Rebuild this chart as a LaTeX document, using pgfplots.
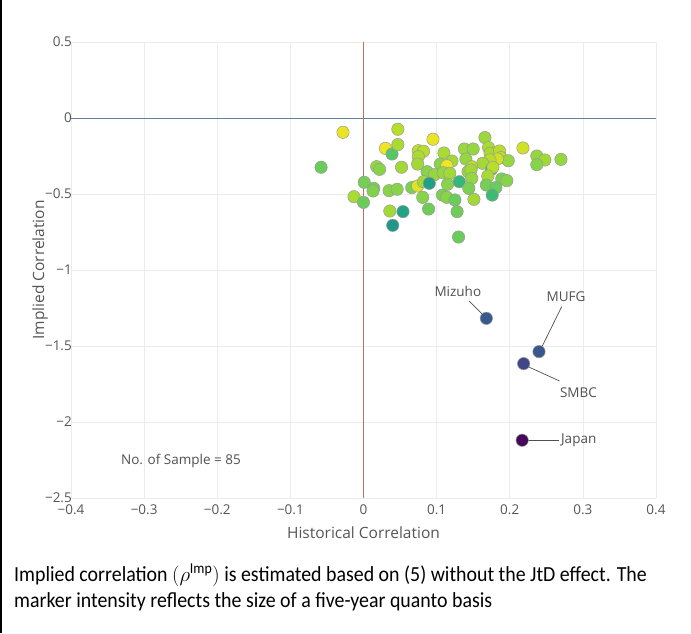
\documentclass[border=0pt]{standalone}
\usepackage{pgfplots}
\pgfplotsset{compat=1.18}
\usepackage{amsmath}
\usepackage{fontspec}
\newfontfamily\plotfont{Open Sans}
\newfontfamily\capfont{Carlito}[FakeStretch=0.925]

\definecolor{tickgray}{RGB}{85,85,85}
\definecolor{gridgray}{RGB}{236,236,236}
\definecolor{vzero}{RGB}{196,112,92}
\definecolor{hzero}{RGB}{96,128,160}
\definecolor{annot}{RGB}{80,80,80}

% x = historical, y = implied, c = quanto basis intensity (0..1)
\pgfplotstableread{
x y c
-0.028 -0.094 0.97
0.047 -0.074 0.89
-0.058 -0.324 0.77
0.030 -0.200 0.98
0.039 -0.237 0.74
0.047 -0.175 0.87
0.095 -0.140 0.97
0.075 -0.215 0.90
0.082 -0.219 0.89
0.075 -0.254 0.87
0.074 -0.303 0.86
0.110 -0.230 0.87
0.121 -0.283 0.86
0.105 -0.303 0.82
0.114 -0.314 0.98
0.018 -0.320 0.84
0.022 -0.338 0.82
0.052 -0.324 0.86
0.087 -0.353 0.82
0.097 -0.373 0.84
0.109 -0.360 0.84
0.118 -0.364 0.86
0.138 -0.204 0.85
0.150 -0.204 0.84
0.166 -0.129 0.85
0.171 -0.195 0.87
0.173 -0.232 0.87
0.186 -0.217 0.89
0.188 -0.261 0.89
0.198 -0.281 0.84
0.183 -0.270 0.93
0.173 -0.276 0.89
0.163 -0.298 0.86
0.140 -0.270 0.84
0.148 -0.320 0.89
0.143 -0.353 0.84
0.147 -0.342 0.86
0.148 -0.397 0.84
0.175 -0.338 0.64
0.177 -0.324 0.89
0.170 -0.382 0.87
0.189 -0.401 0.80
0.196 -0.412 0.82
0.168 -0.441 0.79
0.181 -0.458 0.77
0.176 -0.507 0.68
0.218 -0.197 0.93
0.237 -0.250 0.84
0.248 -0.276 0.86
0.237 -0.307 0.82
0.270 -0.272 0.84
0.001 -0.423 0.79
0.014 -0.463 0.79
0.013 -0.480 0.81
-0.013 -0.518 0.87
0.000 -0.555 0.77
0.035 -0.478 0.82
0.046 -0.469 0.82
0.066 -0.458 0.80
0.074 -0.447 0.95
0.082 -0.419 0.86
0.090 -0.430 0.56
0.081 -0.522 0.82
0.108 -0.507 0.80
0.114 -0.522 0.82
0.125 -0.539 0.77
0.115 -0.436 0.82
0.131 -0.419 0.66
0.144 -0.463 0.80
0.151 -0.535 0.86
0.036 -0.612 0.86
0.054 -0.616 0.58
0.040 -0.706 0.52
0.089 -0.599 0.78
0.128 -0.616 0.78
0.130 -0.783 0.77
0.168 -1.318 0.28
0.240 -1.537 0.27
0.219 -1.616 0.21
0.217 -2.120 0.02
}\corr

\begin{document}
\begin{tikzpicture}[x=1pt,y=1pt]
\useasboundingbox (0,0) rectangle (691,633);
\draw[line width=1.3pt] (1,0) -- (1,633);
\begin{axis}[
  at={(71pt,135pt)}, anchor=south west,
  scale only axis, width=585pt, height=456pt,
  xmin=-0.4, xmax=0.4, ymin=-2.5, ymax=0.5,
  xtick={-0.4,-0.3,-0.2,-0.1,0.1,0.2,0.3,0.4},
  xticklabels={−0.4,−0.3,−0.2,−0.1,0.1,0.2,0.3,0.4},
  extra x ticks={0}, extra x tick labels={0},
  extra x tick style={grid=none},
  ytick={-2.5,-2,-1.5,-1,-0.5,0,0.5},
  yticklabels={−2.5,−2,−1.5,−1,−0.5,0,0.5},
  axis line style={draw=none},
  major tick length=0pt,
  grid=major, grid style={gridgray, line width=0.7pt},
  tick label style={font=\plotfont\fontsize{13.5}{15}\selectfont, text=tickgray},
  xticklabel style={anchor=north, yshift=-3pt},
  yticklabel style={anchor=east, inner sep=0pt, xshift=1pt},
  colormap={vir}{rgb255(0cm)=(68,1,84); rgb255(1cm)=(72,36,117);
    rgb255(2cm)=(65,68,135); rgb255(3cm)=(53,95,141); rgb255(4cm)=(42,120,142);
    rgb255(5cm)=(33,145,140); rgb255(6cm)=(34,168,132); rgb255(7cm)=(68,191,112);
    rgb255(8cm)=(122,209,81); rgb255(9cm)=(189,223,38); rgb255(10cm)=(253,231,37)},
  point meta min=0, point meta max=1,
  clip=false,
]
% zero lines
\draw[hzero, line width=0.9pt] (axis cs:-0.4,0) -- (axis cs:0.4,0);
\draw[vzero, line width=1.3pt] (axis cs:0,-2.5) -- (axis cs:0,0.5);
\addplot[scatter, only marks, mark=*, mark size=6.2pt, point meta=explicit,
  scatter/use mapped color={draw=black!40, fill=mapped color},
  mark options={line width=0.5pt}]
  table[x=x, y=y, meta=c] {\corr};
% annotation leaders
\draw[annot, line width=0.7pt] (axis cs:0.1446,-1.204) -- (axis cs:0.1628,-1.292);
\draw[annot, line width=0.7pt] (axis cs:0.271,-1.241) -- (axis cs:0.243,-1.515);
\draw[annot, line width=0.7pt] (axis cs:0.225,-1.636) -- (axis cs:0.268,-1.730);
\draw[annot, line width=0.7pt] (axis cs:0.224,-2.12) -- (axis cs:0.267,-2.12);
\begin{scope}[every node/.style={font=\plotfont\fontsize{13.5}{15}\selectfont, text=annot, inner sep=0pt}]
\node at (axis cs:0.129,-1.138) {Mizuho};
\node at (axis cs:0.277,-1.176) {MUFG};
\node at (axis cs:0.294,-1.805) {SMBC};
\node[anchor=west] at (axis cs:0.270,-2.12) {Japan};
\end{scope}
\end{axis}
\begin{scope}[every node/.style={font=\plotfont, text=tickgray, inner sep=0pt}]
\node[font=\plotfont\fontsize{15.5}{17}\selectfont] at (363.5,100) {Historical Correlation};
\node[rotate=90, font=\plotfont\fontsize{15.5}{17}\selectfont] at (40,363) {Implied Correlation};
\node[font=\plotfont\fontsize{13.5}{15}\selectfont, text=annot] at (181,172) {No. of Sample = 85};
\end{scope}
\node[anchor=base west, inner sep=0pt, font=\capfont\fontsize{21.5}{24}\selectfont]
  at (14,52) {Implied correlation $(\rho^{\text{Imp}})$ is estimated based on (5) without the JtD effect. The};
\node[anchor=base west, inner sep=0pt, font=\capfont\fontsize{21.5}{24}\selectfont]
  at (14,26) {marker intensity reflects the size of a five-year quanto basis};
\end{tikzpicture}
\end{document}
